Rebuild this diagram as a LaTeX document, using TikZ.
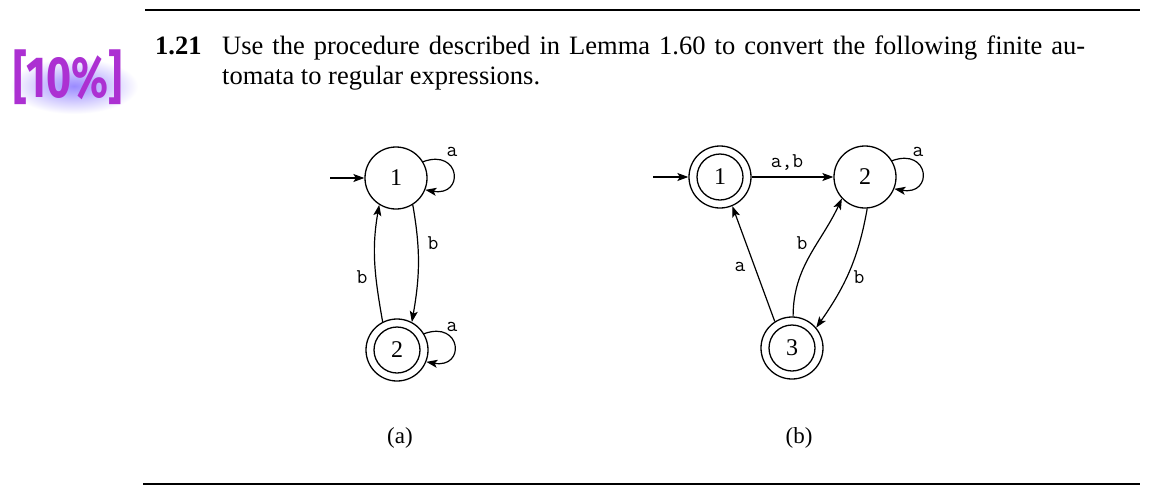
\documentclass[tikz,border=0pt]{standalone}
\usepackage{fontspec}
\setmainfont{Liberation Serif}
\newfontfamily\badgefont{Fira Sans}
\usetikzlibrary{arrows.meta}
\definecolor{badge}{RGB}{172,48,210}
\definecolor{glow}{RGB}{120,100,255}
\begin{document}
\begin{tikzpicture}[x=1pt,y=1pt,
  state/.style={circle,draw,line width=1.3pt,minimum size=62pt,inner sep=0pt,
    font=\fontsize{24}{24}\selectfont},
  accept/.style={state,path picture={\draw[line width=1.3pt] (path picture bounding box.center) circle (23pt);}},
  edge/.style={-{Stealth[length=11pt,width=8pt,inset=2.5pt]},line width=1.2pt},
  lab/.style={font=\ttfamily\fontsize{21}{21}\selectfont,inner sep=0pt},
  body/.style={font=\fontsize{26.5}{26.5}\selectfont,inner sep=0pt,anchor=base west},
  captext/.style={font=\fontsize{23}{23}\selectfont,inner sep=0pt},
  badgestyle/.style={font=\badgefont\bfseries\fontsize{58}{58}\selectfont,inner sep=0pt}
]
\useasboundingbox (0,0) rectangle (1152,-496);
\fill[white] (0,0) rectangle (1152,-496);

% rules
\draw[line width=1.4pt] (145,-10) -- (1140,-10);
\draw[line width=1.4pt] (143,-484) -- (1140,-484);

% badge with soft glow
\shade[inner color=glow!75,outer color=white] (74,-86) ellipse (64 and 28);
\node[badgestyle,text=badge] (badge) at (68,-77) {\scalebox{0.74}[1]{[10\%]}};

% problem text
\node[body] (num) at (155,-54) {\textbf{1.21}};
\node[body] (line1) at (222,-54) {\makebox[863pt][s]{Use the procedure described in Lemma 1.60 to convert the following finite au-}};
\node[body] (line2) at (222,-84) {tomata to regular expressions.};

% automaton (a)
\node[state] (a1) at (396,-178) {1};
\node[accept] (a2) at (397,-350) {2};
\coordinate (a0) at (330,-178);
\draw[edge] (a0) -- (a1);
\draw[edge] (a1.31) .. controls +(20:40) and +(-10:40) .. (a1.-22);
\node[lab] (la11) at (452,-152) {a};
\draw[edge] (a1.-58) to[out=-80,in=80] (a2.62);
\node[lab] (la12) at (433,-243) {b};
\draw[edge] (a2.117) to[out=100,in=-100] (a1.-122);
\node[lab] (la21) at (362,-277) {b};
\draw[edge] (a2.31) .. controls +(20:40) and +(-10:40) .. (a2.-22);
\node[lab] (la22) at (452,-327) {a};
\node[captext] (capa) at (400,-438) {(a)};

% automaton (b)
\node[accept] (b1) at (720,-177) {1};
\node[state] (b2) at (865,-177) {2};
\node[accept] (b3) at (792,-348) {3};
\coordinate (b0) at (653,-177);
\draw[edge] (b0) -- (b1);
\draw[edge] (b1) -- (b2);
\node[lab] (lb12) at (787,-163) {a,b};
\draw[edge] (b2.31) .. controls +(20:40) and +(-10:40) .. (b2.-22);
\node[lab] (lb22) at (918,-152) {a};
\draw[edge] (b3.123) -- (b1.-67);
\node[lab] (lb31) at (740,-267) {a};
\draw[edge] (b3.88) to[out=90,in=-115] (b2.-137);
\node[lab] (lb32) at (802,-243) {b};
\draw[edge] (b2.-86) to[out=-100,in=55] (b3.40);
\node[lab] (lb23) at (859,-277) {b};
\node[captext] (capb) at (799,-438) {(b)};
\end{tikzpicture}
\end{document}
